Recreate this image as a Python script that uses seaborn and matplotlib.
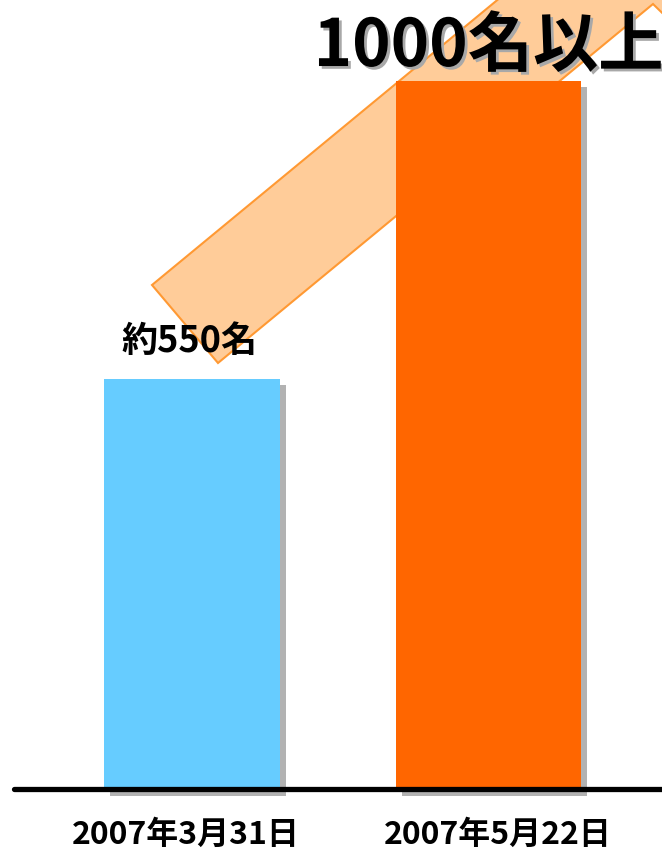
import numpy as np
import pandas as pd
import matplotlib
matplotlib.use("Agg")
import matplotlib.pyplot as plt
import matplotlib.patheffects as pe
from matplotlib.patches import Rectangle, Polygon
import seaborn as sns

# data
dates = ["2007年3月31日", "2007年5月22日"]
members = [550, 950]
bar_labels = ["約550名", "1000名以上"]
colors = ["#66CCFF", "#FF6600"]

sns.set_style("white")
plt.rcParams["font.family"] = ["Noto Sans CJK JP", "DejaVu Sans"]
plt.rcParams["text.color"] = "black"

W, H = 662, 852
fig = plt.figure(figsize=(W / 100, H / 100), dpi=100)
ax = fig.add_axes([0, 0, 1, 1])

# pixel scale: categories 296.5 px apart, 550 units = 410 px
px_x = 1 / 296.5
px_y = 550 / 410

df = pd.DataFrame({"date": dates, "members": members})
sns.barplot(data=df, x="date", y="members", hue="date", palette=colors,
            legend=False, ax=ax, zorder=3, saturation=1)
ax.set_xlim(-192 * px_x, (W - 192) * px_x)
ax.set_ylim(-(H - 789) * px_y, 789 * px_y)

widths = [176 * px_x, 185 * px_x]
for i, p in enumerate(ax.patches):
    w = widths[i]
    p.set_x(i - w / 2)
    p.set_width(w)
    p.set_edgecolor("none")
    # drop shadow
    ax.add_patch(Rectangle((p.get_x() + 6 * px_x, -7 * px_y), w,
                           p.get_height() + 1 * px_y,
                           facecolor="#B2B2B2", edgecolor="none", zorder=2))

# big arrow behind bars (pixel coords -> figure fraction)
def fp(x, y):
    return (x / W, 1 - y / H)

arrow_px = [(152, 285), (587, -74), (560, -110), (760, -120), (690, 40),
            (653, 4), (218, 363)]
ax.add_patch(Polygon([fp(*q) for q in arrow_px], closed=True,
                     transform=fig.transFigure, facecolor="#FFCC99",
                     edgecolor="#FF9933", linewidth=1.5, zorder=1))

# baseline
ax.axhline(0, xmin=14 / W, xmax=1, color="black", linewidth=3.8, zorder=4)

# value labels
ax.text(-0.01, 600, bar_labels[0], ha="center", va="center", fontsize=26,
        fontweight="bold", zorder=5)
ax.text(1, 996, bar_labels[1], ha="center", va="center", fontsize=47,
        fontweight="bold", zorder=5,
        path_effects=[pe.SimplePatchShadow(offset=(2, -2), shadow_rgbFace="#A8A8A8", alpha=1),
                      pe.Normal()])

# date labels
for i, d in enumerate(dates):
    ax.text(i - 0.02 + 0.05 * i, -62, d, ha="center", va="center", fontsize=23,
            fontweight="bold", zorder=5)

ax.set_axis_off()
fig.savefig("out.png", dpi=100)
